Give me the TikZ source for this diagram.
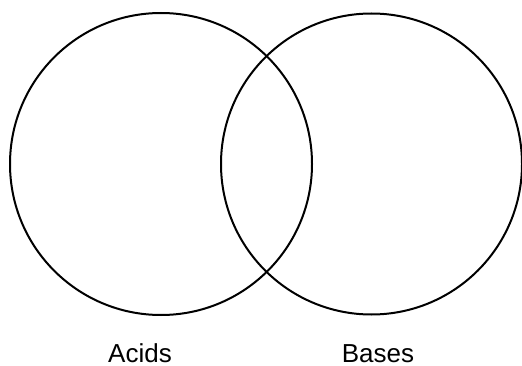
\documentclass[tikz,border=0pt]{standalone}
\usepackage{fontspec}
\setmainfont{Liberation Sans}
\begin{document}
\begin{tikzpicture}[x=1pt,y=1pt,
  ring/.style={draw=black,line width=2pt},
  lbl/.style={inner sep=0pt,anchor=base,font=\fontsize{26}{30}\selectfont}]
\useasboundingbox (0,0) rectangle (522,365);
\draw[ring] (161,201) circle[radius=151];
\draw[ring] (371.5,201) circle[radius=150.5];
\node[lbl] (acids) at (140,2.5) {Acids};
\node[lbl] (bases) at (378,2.5) {Bases};
\end{tikzpicture}
\end{document}
